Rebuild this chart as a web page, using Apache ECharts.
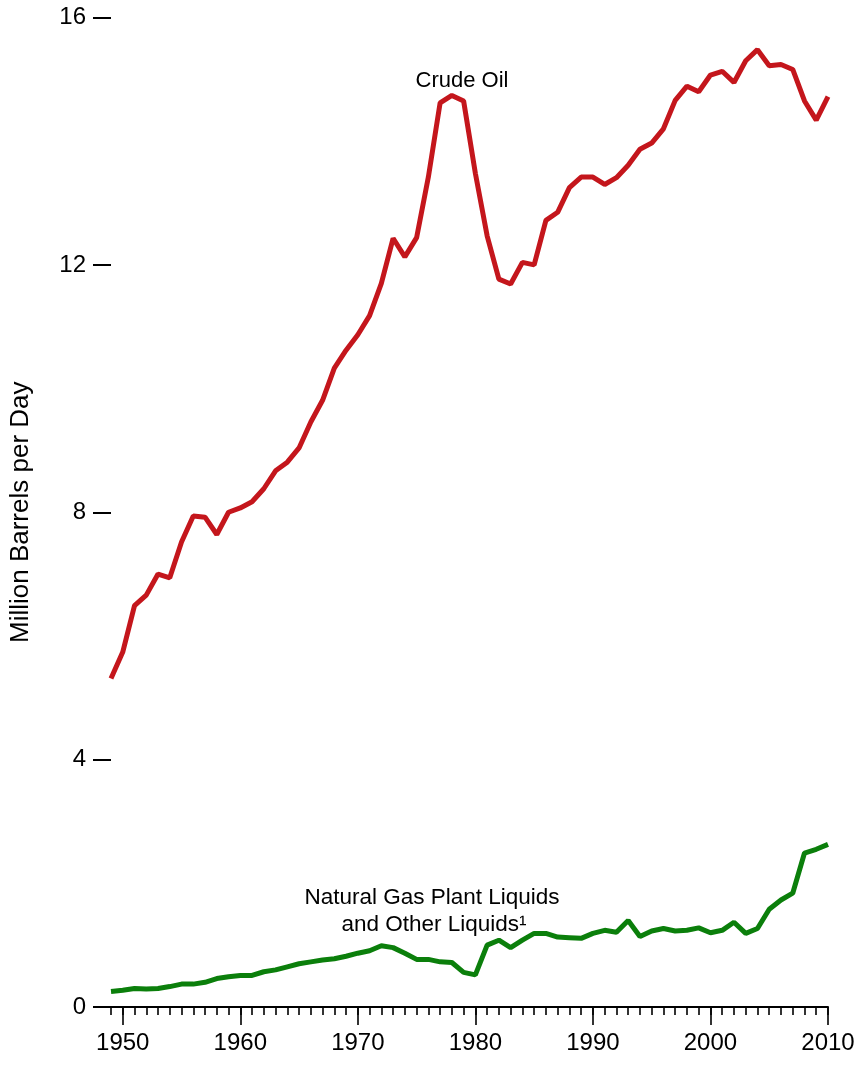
<!DOCTYPE html>
<html>
<head>
<meta charset="utf-8">
<script src="https://cdn.jsdelivr.net/npm/echarts/dist/echarts.min.js"></script>
<style>
html,body{margin:0;padding:0;background:#ffffff;}
#chart{width:860px;height:1065px;}
</style>
</head>
<body>
<div id="chart"></div>
<script>
const years = ['1949','1950','1951','1952','1953','1954','1955','1956','1957','1958','1959',
  '1960','1961','1962','1963','1964','1965','1966','1967','1968','1969',
  '1970','1971','1972','1973','1974','1975','1976','1977','1978','1979',
  '1980','1981','1982','1983','1984','1985','1986','1987','1988','1989',
  '1990','1991','1992','1993','1994','1995','1996','1997','1998','1999',
  '2000','2001','2002','2003','2004','2005','2006','2007','2008','2009','2010'];

const crudeOil = [5.31,5.74,6.49,6.66,7.00,6.94,7.52,7.94,7.92,7.64,8.00,
  8.07,8.17,8.38,8.67,8.81,9.04,9.46,9.81,10.33,10.62,
  10.87,11.18,11.70,12.43,12.13,12.44,13.42,14.62,14.74,14.65,
  13.48,12.47,11.77,11.69,12.04,12.00,12.72,12.85,13.25,13.42,
  13.42,13.30,13.41,13.61,13.87,13.97,14.20,14.66,14.89,14.80,
  15.07,15.13,14.95,15.30,15.48,15.22,15.24,15.16,14.65,14.34,14.72];

const nglOther = [0.25,0.27,0.30,0.29,0.30,0.33,0.37,0.37,0.40,0.46,0.49,
  0.51,0.51,0.57,0.60,0.65,0.70,0.73,0.76,0.78,0.82,
  0.87,0.91,0.99,0.96,0.87,0.77,0.77,0.73,0.72,0.56,
  0.52,1.00,1.08,0.96,1.08,1.19,1.19,1.13,1.12,1.11,
  1.19,1.24,1.21,1.40,1.14,1.23,1.27,1.23,1.24,1.28,
  1.20,1.24,1.37,1.19,1.27,1.58,1.73,1.84,2.49,2.55,2.63];

const yMin = 0, yMax = 16, yStep = 4;
const yTitle = 'Million Barrels per Day';
const crudeLabel = 'Crude Oil';
const nglLabel1 = 'Natural Gas Plant Liquids';
const nglLabel2 = 'and Other Liquids\u00B9';

const FONT = '"Liberation Sans", Arial, Helvetica, sans-serif';
const isDecade = (i) => Number(years[i]) % 10 === 0;

const chart = echarts.init(document.getElementById('chart'), null, {renderer: 'canvas'});
chart.setOption({
  animation: false,
  backgroundColor: '#ffffff',
  textStyle: {fontFamily: FONT, color: '#000'},
  grid: {left: 104, right: 32, top: 17.5, bottom: 58, containLabel: false},
  xAxis: [
    {
      type: 'category', data: years, boundaryGap: false, position: 'bottom',
      axisLine: {show: true, lineStyle: {color: '#000', width: 2}},
      axisTick: {show: true, length: 8, interval: 0, lineStyle: {color: '#000', width: 1.6}},
      axisLabel: {show: false},
      splitLine: {show: false}
    },
    {
      type: 'category', data: years, boundaryGap: false, position: 'bottom', gridIndex: 0,
      axisLine: {show: false},
      axisTick: {show: true, length: 18, interval: (i) => isDecade(i), lineStyle: {color: '#000', width: 1.6}},
      axisLabel: {show: true, interval: (i) => isDecade(i), fontSize: 24, color: '#000', margin: 24, fontFamily: FONT},
      splitLine: {show: false}
    }
  ],
  yAxis: {
    type: 'value', min: yMin, max: yMax, interval: yStep,
    axisLine: {show: false},
    axisTick: {show: true, length: 18, lineStyle: {color: '#000', width: 2}},
    axisLabel: {fontSize: 24, color: '#000', margin: 25, fontFamily: FONT},
    splitLine: {show: false},
    name: yTitle, nameLocation: 'middle', nameGap: 77,
    nameTextStyle: {fontSize: 26, color: '#000', fontFamily: FONT}
  },
  series: [
    {
      type: 'line', name: crudeLabel, data: crudeOil, xAxisIndex: 0,
      symbol: 'none', smooth: false,
      lineStyle: {color: '#C4161C', width: 5}
    },
    {
      type: 'line', name: 'NGL', data: nglOther, xAxisIndex: 0,
      symbol: 'none', smooth: false,
      lineStyle: {color: '#0B7F0B', width: 5}
    }
  ],
  graphic: [
    {type: 'text', x: 462, y: 81, style: {text: crudeLabel, fontSize: 22, fontFamily: FONT, fill: '#000', align: 'center', verticalAlign: 'middle'}},
    {type: 'text', x: 432, y: 898, style: {text: nglLabel1, fontSize: 22.5, fontFamily: FONT, fill: '#000', align: 'center', verticalAlign: 'middle'}},
    {type: 'text', x: 434, y: 925, style: {text: nglLabel2, fontSize: 22.5, fontFamily: FONT, fill: '#000', align: 'center', verticalAlign: 'middle'}}
  ]
});
</script>
</body>
</html>
